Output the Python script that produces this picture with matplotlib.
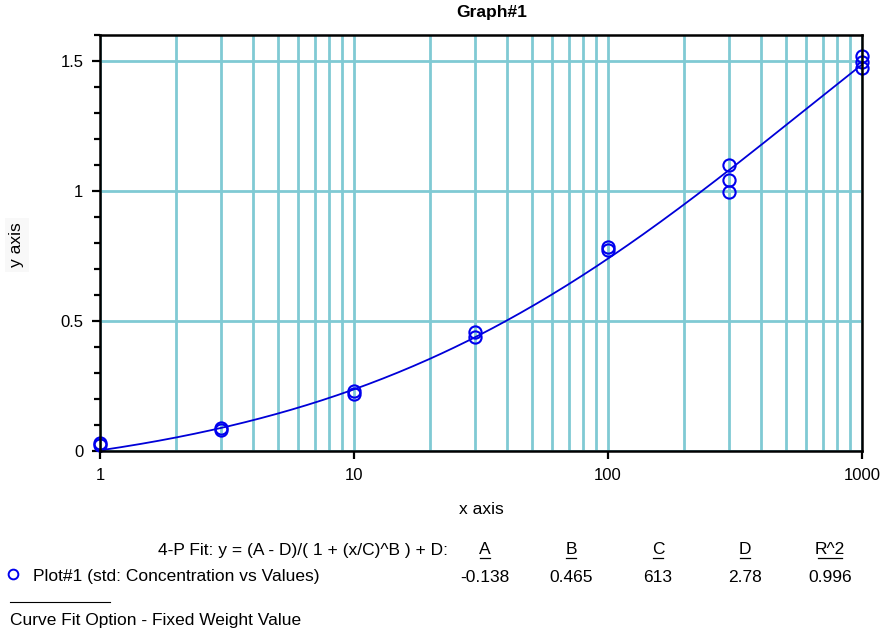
import numpy as np
import matplotlib
matplotlib.use("Agg")
import matplotlib.pyplot as plt
from matplotlib.ticker import FixedLocator, NullFormatter, NullLocator, MultipleLocator

plt.rcParams['font.family'] = ['Liberation Sans', 'DejaVu Sans']

# data
conc_x = [1, 1, 3, 3, 10, 10, 30, 30, 100, 100, 300, 300, 300, 1000, 1000, 1000]
values_y = [0.025, 0.032, 0.080, 0.088, 0.220, 0.230, 0.440, 0.458, 0.772, 0.785,
            0.998, 1.042, 1.100, 1.475, 1.495, 1.520]

# 4-P fit parameters shown in the legend
fit_A, fit_B, fit_C, fit_D, fit_R2 = -0.138, 0.465, 613, 2.78, 0.996
param_names = ["A", "B", "C", "D", "R^2"]
param_labels = ["-0.138", "0.465", "613", "2.78", "0.996"]

x_major = [1, 10, 100, 1000]
x_major_labels = ["1", "10", "100", "1000"]
y_major = [0, 0.5, 1, 1.5]
y_major_labels = ["0", "0.5", "1", "1.5"]

W, H = 883, 631
fig = plt.figure(figsize=(W / 100, H / 100), dpi=100)
ax = fig.add_axes([100 / W, 1 - 451 / H, (862 - 100) / W, (451 - 35) / H])

grid_c = '#80CAD4'
ax.set_xscale('log')
ax.set_xlim(1, 1000)
ax.set_ylim(0, 1.6)

# grid lines: every decade subdivision in x, majors in y
xs_grid = [m * 10 ** e for e in range(0, 3) for m in range(1, 10)] + [1000]
for xv in xs_grid:
    ax.axvline(xv, color=grid_c, lw=2.0, zorder=1)
for yv in y_major:
    ax.axhline(yv, color=grid_c, lw=2.0, zorder=1)

# fitted curve
xf = np.logspace(0, 3, 300)
yf = (fit_A - fit_D) / (1 + (xf / fit_C) ** fit_B) + fit_D
ax.plot(xf, yf, color='#0000D8', lw=1.3, zorder=3)

ax.plot(conc_x, values_y, linestyle='none', marker='o', markersize=8.8,
        markerfacecolor='none', markeredgecolor='#0000EE', markeredgewidth=1.5,
        zorder=4, clip_on=False)

ax.xaxis.set_major_locator(FixedLocator(x_major))
ax.set_xticklabels(x_major_labels)
ax.xaxis.set_minor_locator(NullLocator())
ax.xaxis.set_minor_formatter(NullFormatter())
ax.yaxis.set_major_locator(FixedLocator(y_major))
ax.set_yticklabels(y_major_labels)
ax.yaxis.set_minor_locator(MultipleLocator(0.1))

ax.tick_params(axis='both', which='major', direction='out', length=6, width=1.6,
               labelsize=12, pad=6, colors='black')
ax.tick_params(axis='y', which='minor', direction='out', length=4, width=1.6)
for s in ax.spines.values():
    s.set_linewidth(1.8)
    s.set_color('black')
    s.set_zorder(5)

fig.text(492 / W, 1 - 13 / H, "Graph#1", ha='center', va='center', fontsize=12.5, fontweight='bold')
fig.text(481 / W, 1 - 510 / H, "x axis", ha='center', va='center', fontsize=12.5)
fig.text(17 / W, 1 - 245 / H, "y axis", ha='center', va='center', fontsize=12.5, rotation=90,
         bbox=dict(facecolor='#F8F8F8', edgecolor='none', pad=3))

# legend / fit table
fs = 12.5
fig.text(448 / W, 1 - 550 / H, "4-P Fit: y = (A - D)/( 1 + (x/C)^B ) + D:", ha='right',
         va='center', fontsize=fs)
col_x = [485, 571, 658, 745, 830]
ul_w = [10, 10, 10, 10, 24]
for cx, name, val, uw in zip(col_x, param_names, param_labels, ul_w):
    fig.text(cx / W, 1 - 550 / H, name, ha='center', va='center', fontsize=fs)
    fig.lines.append(plt.Line2D([(cx - uw / 2) / W, (cx + uw / 2) / W], [1 - 558 / H, 1 - 558 / H],
                                transform=fig.transFigure, color='black', lw=0.9))
    fig.text(cx / W, 1 - 577 / H, val, ha='center', va='center', fontsize=fs)

fig.lines.append(plt.Line2D([13 / W], [1 - 574 / H], transform=fig.transFigure, marker='o',
                            markersize=7, markerfacecolor='none', markeredgecolor='#0000EE',
                            markeredgewidth=1.4, linestyle='none'))
fig.text(33 / W, 1 - 577 / H, "Plot#1 (std: Concentration vs Values)", ha='left', va='center', fontsize=fs)
fig.lines.append(plt.Line2D([10 / W, 110 / W], [1 - 602 / H, 1 - 602 / H], transform=fig.transFigure,
                            color='black', lw=0.8))
fig.text(10 / W, 1 - 621 / H, "Curve Fit Option - Fixed Weight Value", ha='left', va='center', fontsize=fs)

fig.savefig("out.png", dpi=100)
